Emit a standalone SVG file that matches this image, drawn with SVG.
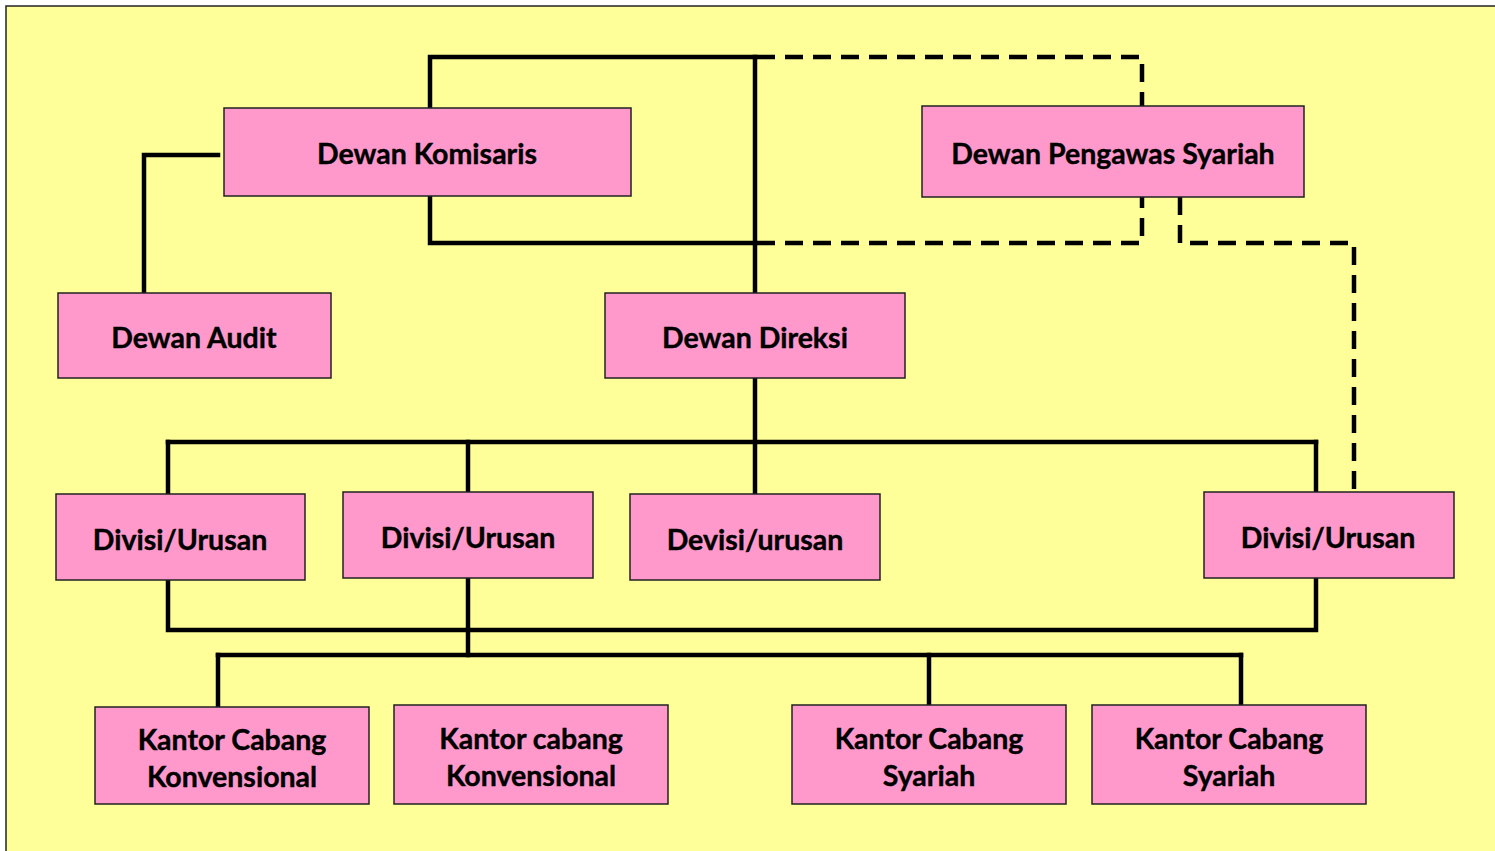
<svg xmlns="http://www.w3.org/2000/svg" width="1495" height="851" viewBox="0 0 1495 851">
<style>
.bg{fill:#FFFF99;stroke:#222;stroke-width:1.5}
.box{fill:#FF99CC;stroke:#222;stroke-width:1.5}
.t{font-family:Lato,"Open Sans","Liberation Sans",sans-serif;font-weight:bold;font-size:28.5px;fill:#000;stroke:#000;stroke-width:0.4;text-anchor:middle;dominant-baseline:central}
.s{fill:none;stroke:#000;stroke-width:4.5;stroke-linecap:square}
.d{fill:none;stroke:#000;stroke-width:4.5;stroke-dasharray:18 10}
</style>
<rect class="bg" x="6" y="6" width="1500" height="860"/>
<g id="connectors">
<polyline class="s" points="430,108 430,57 755,57"/>
<line class="s" x1="755" y1="57" x2="755" y2="293"/>
<polyline class="s" points="430,196 430,243 755,243"/>
<polyline class="d" points="757,57 1142,57 1142,106"/>
<polyline class="d" points="757,243 1142,243 1142,197"/>
<polyline class="d" points="1180,197 1180,243 1354,243 1354,492"/>
<polyline class="s" points="218,155 144,155 144,293"/>
<line class="s" x1="755" y1="378" x2="755" y2="494"/>
<line class="s" x1="168" y1="442" x2="1316" y2="442"/>
<line class="s" x1="168" y1="442" x2="168" y2="494"/>
<line class="s" x1="468" y1="442" x2="468" y2="492"/>
<line class="s" x1="1316" y1="442" x2="1316" y2="492"/>
<polyline class="s" points="168,580 168,630 1316,630 1316,578"/>
<line class="s" x1="468" y1="578" x2="468" y2="655"/>
<line class="s" x1="218" y1="655" x2="1241" y2="655"/>
<line class="s" x1="218" y1="655" x2="218" y2="707"/>
<line class="s" x1="929" y1="655" x2="929" y2="705"/>
<line class="s" x1="1241" y1="655" x2="1241" y2="705"/>
</g>
<g id="dewan-komisaris"><rect class="box" x="224" y="108" width="407" height="88"/><text class="t" x="427" y="153">Dewan Komisaris</text></g>
<g id="dewan-pengawas-syariah"><rect class="box" x="922" y="106" width="382" height="91"/><text class="t" x="1113" y="153">Dewan Pengawas Syariah</text></g>
<g id="dewan-audit"><rect class="box" x="58" y="293" width="273" height="85"/><text class="t" x="194" y="337">Dewan Audit</text></g>
<g id="dewan-direksi"><rect class="box" x="605" y="293" width="300" height="85"/><text class="t" x="755" y="337">Dewan Direksi</text></g>
<g id="divisi-1"><rect class="box" x="56" y="494" width="249" height="86"/><text class="t" x="180" y="539">Divisi/Urusan</text></g>
<g id="divisi-2"><rect class="box" x="343" y="492" width="250" height="86"/><text class="t" x="468" y="537">Divisi/Urusan</text></g>
<g id="devisi-3"><rect class="box" x="630" y="494" width="250" height="86"/><text class="t" x="755" y="539">Devisi/urusan</text></g>
<g id="divisi-4"><rect class="box" x="1204" y="492" width="250" height="86"/><text class="t" x="1328" y="537">Divisi/Urusan</text></g>
<g id="kantor-1"><rect class="box" x="95" y="707" width="274" height="97"/><text class="t" x="232" y="739">Kantor Cabang</text><text class="t" x="232" y="776">Konvensional</text></g>
<g id="kantor-2"><rect class="box" x="394" y="705" width="274" height="99"/><text class="t" x="531" y="738">Kantor cabang</text><text class="t" x="531" y="775">Konvensional</text></g>
<g id="kantor-3"><rect class="box" x="792" y="705" width="274" height="99"/><text class="t" x="929" y="738">Kantor Cabang</text><text class="t" x="929" y="775">Syariah</text></g>
<g id="kantor-4"><rect class="box" x="1092" y="705" width="274" height="99"/><text class="t" x="1229" y="738">Kantor Cabang</text><text class="t" x="1229" y="775">Syariah</text></g>
</svg>
